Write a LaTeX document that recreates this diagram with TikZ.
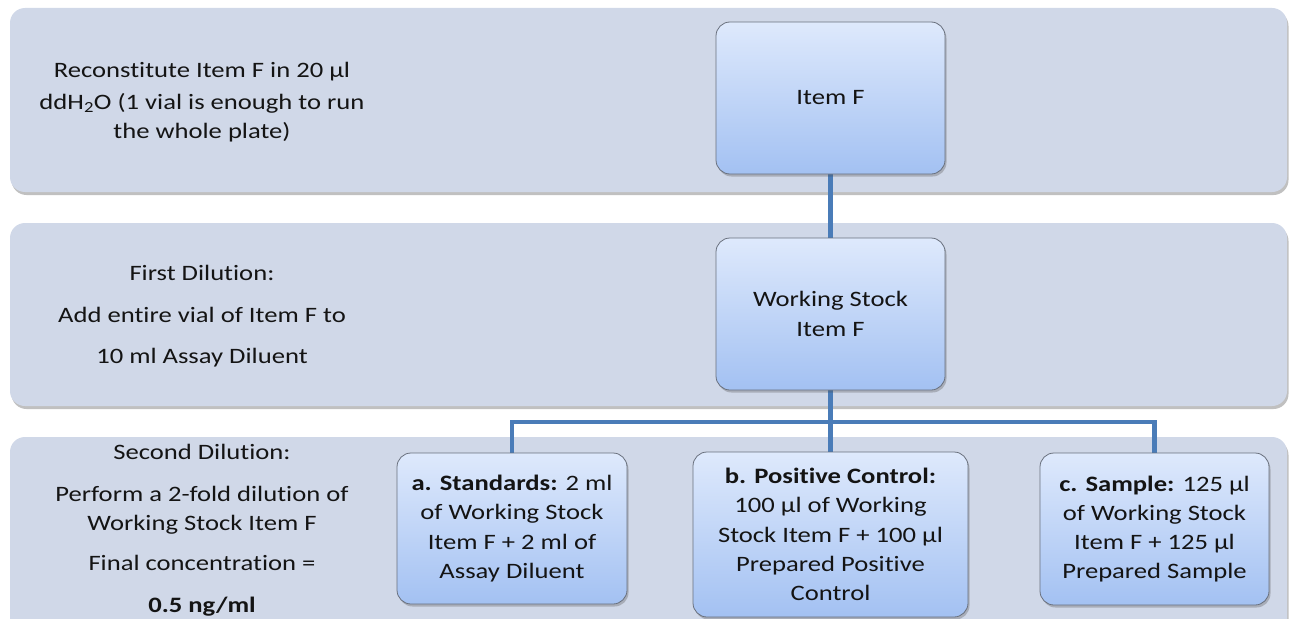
\documentclass[tikz,border=0pt]{standalone}
\usepackage{fontspec}
\setmainfont{Carlito}[FakeStretch=1.21,Ligatures={NoCommon}]
\usetikzlibrary{shadows}
\definecolor{bandfill}{RGB}{208,216,232}
\definecolor{boxtop}{RGB}{222,233,252}
\definecolor{boxbot}{RGB}{163,193,242}
\definecolor{boxline}{RGB}{105,112,125}
\definecolor{conncol}{RGB}{74,124,184}
\definecolor{txt}{RGB}{20,20,20}
\begin{document}
\begin{tikzpicture}[x=1pt,y=-1pt,
  band/.style={fill=bandfill,draw=none,rounded corners=15pt,
    drop shadow={shadow xshift=1.5pt,shadow yshift=-3pt,opacity=0.35,fill=black!70}},
  stepbox/.style={rectangle,rounded corners=14pt,draw=boxline,line width=0.8pt,
    top color=boxtop,bottom color=boxbot,align=center,text=txt,inner sep=2pt,
    font=\fontsize{22}{29.2}\selectfont,
    drop shadow={shadow xshift=1.5pt,shadow yshift=-2.5pt,opacity=0.3,fill=black!70}},
  lbl/.style={align=center,text=txt,inner sep=0pt,font=\fontsize{22}{29}\selectfont},
  conn/.style={draw=conncol,line width=4.5pt}
]
\clip (0,0) rectangle (1292,618);
\fill[white] (0,0) rectangle (1292,618);
% bands
\path[band] (10,8) rectangle (1287,192);
\path[band] (10,223) rectangle (1287,406);
\path[band] (10,437) rectangle (1287,660);
% band texts (base anchor = last baseline)
\node[lbl,anchor=base] (t1) at (202,138) {Reconstitute Item F in 20 µl\\[3pt]ddH\textsubscript{2}O (1 vial is enough to run\\the whole plate)};
\node[lbl,anchor=base] (t2) at (202,363) {First Dilution:\\[13pt]Add entire vial of Item F to\\[12pt]10 ml Assay Diluent};
\node[lbl,anchor=base] (t3) at (202,612) {Second Dilution:\\[13pt]Perform a 2-fold dilution of\\Working Stock Item F\\[11pt]Final concentration =\\[13pt]\textbf{0.5 ng/ml}};
% connectors
\coordinate (hub) at (830.5,422);
\draw[conn] (830.5,174) -- (830.5,238);
\draw[conn] (830.5,390) -- (830.5,452);
\draw[conn] (512,453) |- (hub) -| (1154.5,453);
% boxes
\node[stepbox,minimum width=229pt,minimum height=152pt] (itemf) at (830.5,98) {Item F};
\node[stepbox,minimum width=229pt,minimum height=152pt] (stock) at (830.5,314) {Working Stock\\Item F};
\node[stepbox,minimum width=230pt,minimum height=151pt] (boxa) at (512,528.5) {\textbf{a. Standards:} 2 ml\\of Working Stock\\Item F + 2 ml of\\Assay Diluent};
\node[stepbox,minimum width=275pt,minimum height=165pt] (boxb) at (830.5,534.5) {\textbf{b. Positive Control:}\\100 µl of Working\\Stock Item F + 100 µl\\Prepared Positive\\Control};
\node[stepbox,minimum width=229pt,minimum height=152pt] (boxc) at (1154.5,529) {\textbf{c. Sample:} 125 µl\\of Working Stock\\Item F + 125 µl\\Prepared Sample};
\end{tikzpicture}
\end{document}
